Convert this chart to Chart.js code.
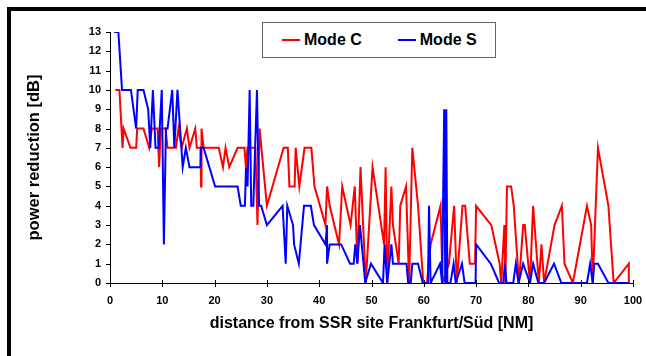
<!DOCTYPE html>
<html>
<head>
<meta charset="utf-8">
<script src="https://cdn.jsdelivr.net/npm/chart.js@4/dist/chart.umd.min.js"></script>
<style>
  html, body { margin: 0; padding: 0; background: #fff; }
  #wrap { position: relative; width: 646px; height: 356px; overflow: hidden; }
  #frame {
    position: absolute; left: 7px; top: 7px; right: 0; bottom: 0;
    border-top: 4px solid #000; border-left: 4px solid #000;
    pointer-events: none;
  }
  #legend {
    position: absolute; left: 262px; top: 22px; width: 234px; height: 36px;
    border: 1px solid #666; background: #fff; box-sizing: border-box;
    display: flex; align-items: center; padding-left: 19px; white-space: nowrap;
    font: bold 16px "Liberation Sans", Arial, sans-serif; color: #000;
  }
  #legend .item { display: flex; align-items: center; margin-right: 36px; flex-shrink: 0; }
  #legend .swatch { width: 18px; height: 2px; margin-right: 4px; }
</style>
</head>
<body>
<div id="wrap">
  <canvas id="powerChart" width="646" height="356"></canvas>
  <div id="legend"></div>
  <div id="frame"></div>
</div>
<script>
// Mode C (red) - distance [NM] / power reduction [dB]
const modeCDist = [1.0, 1.8, 2.4, 2.6, 3.9, 5.0, 5.2, 6.4, 7.5, 8.0, 9.1, 9.4, 9.7, 10.6, 11.0, 12.6, 13.1, 13.7,
  14.7, 15.2, 16.3, 16.6, 17.3, 17.4, 17.5, 17.9, 20.8, 21.6, 22.1, 22.8, 24.4, 25.7, 26.0, 26.3, 27.8, 28.2,
  28.6, 30.0, 33.2, 34.0, 34.3, 35.3, 35.5, 36.2, 37.2, 38.5, 39.1, 41.2, 41.5, 42.0, 43.8, 44.4, 46.0, 46.8,
  47.3, 47.9, 48.9, 50.2, 52.4, 52.7, 53.0, 53.8, 54.1, 55.2, 55.5, 56.6, 57.2, 57.8, 58.9, 59.9, 60.6, 61.3,
  63.2, 63.6, 64.8, 65.8, 66.3, 67.4, 67.9, 68.8, 69.8, 70.0, 72.9, 74.5, 74.8, 75.4, 75.6, 75.9, 76.7, 77.2,
  78.2, 79.0, 79.3, 80.3, 80.9, 82.0, 82.5, 83.0, 85.0, 86.4, 86.9, 88.5, 91.2, 92.0, 92.3, 93.3, 95.3, 96.3,
  99.2, 99.2];
const modeCPower = [10, 10, 7, 8, 7, 7, 8, 8, 7, 8, 8, 6, 8, 8, 7, 7, 8, 7,
  8, 7, 8, 7, 7, 5, 8, 7, 7, 6, 7, 6, 7, 7, 6, 7, 7, 3,
  8, 4, 7, 7, 5, 5, 7, 5, 7, 7, 5, 3, 5, 4, 2, 5, 3, 5,
  1, 6, 0, 6, 2, 6, 0, 5, 3, 1, 4, 5, 0, 7, 4, 0, 0, 2,
  4, 0, 1, 4, 0, 4, 4, 1, 1, 4, 3, 1, 0, 3, 0, 5, 5, 4,
  0, 3, 3, 0, 4, 0, 2, 0, 3, 4, 1, 0, 4, 3, 0, 7, 4, 0,
  1, 0];

// Mode S (blue)
const modeSDist = [0.8, 1.6, 2.3, 4.0, 5.0, 5.3, 6.4, 7.3, 7.7, 8.2, 8.7, 9.3, 9.9, 10.3, 10.7, 11.0, 11.9, 12.3,
  12.9, 13.9, 14.5, 15.2, 17.3, 17.4, 17.9, 20.1, 24.4, 25.0, 25.8, 26.0, 26.3, 26.7, 27.0, 27.4, 28.1, 28.5,
  28.9, 30.0, 33.0, 33.6, 33.9, 35.0, 35.2, 36.1, 37.1, 38.4, 39.0, 41.2, 41.5, 41.5, 42.0, 44.2, 45.9, 46.6,
  46.9, 47.3, 47.8, 48.8, 49.9, 52.2, 52.5, 53.0, 53.8, 54.1, 56.7, 57.0, 57.5, 57.8, 58.9, 59.8, 60.8, 61.0,
  61.3, 63.1, 63.5, 63.9, 64.1, 64.3, 64.5, 65.1, 65.7, 66.1, 67.3, 67.8, 69.9, 70.0, 72.8, 74.4, 75.2, 75.5,
  75.8, 77.1, 77.6, 78.1, 79.0, 80.3, 80.9, 81.9, 83.0, 84.9, 86.3, 91.2, 91.8, 92.3, 92.6, 93.3, 95.3, 99.4];
const modeSPower = [13, 13, 10, 10, 8, 10, 10, 9, 7, 10, 7, 7, 10, 2, 8, 8, 10, 7,
  10, 6, 7, 6, 6, 7, 7, 5, 5, 4, 4, 6, 5, 10, 4, 4, 10, 4,
  4, 3, 4, 1, 4, 3, 2, 1, 4, 4, 3, 2, 3, 1, 2, 2, 1, 1,
  2, 1, 3, 0, 1, 0, 2, 0, 2, 1, 1, 0, 0, 1, 1, 0, 0, 4,
  0, 1, 0, 9, 0, 9, 0, 0, 1, 0, 1, 0, 0, 2, 1, 0, 0, 1,
  0, 0, 1, 0, 1, 0, 1, 0, 0, 1, 0, 0, 1, 0, 1, 1, 0, 0];

const xTicks = [0, 10, 20, 30, 40, 50, 60, 70, 80, 90, 100];
const yTicks = [0, 1, 2, 3, 4, 5, 6, 7, 8, 9, 10, 11, 12, 13];

const FONT = '"Liberation Sans", Arial, sans-serif';

function toPoints(xs, ys) {
  return xs.map((x, i) => ({ x: x, y: ys[i] }));
}

// tick marks like the original: x ticks cross the axis, y ticks point outward
const tickMarks = {
  id: 'tickMarks',
  afterDraw(chart) {
    const { ctx, chartArea, scales } = chart;
    ctx.save();
    ctx.strokeStyle = '#000';
    ctx.lineWidth = 1;
    ctx.beginPath();
    xTicks.forEach(v => {
      const px = Math.round(scales.x.getPixelForValue(v)) + 0.5;
      ctx.moveTo(px, chartArea.bottom - 3);
      ctx.lineTo(px, chartArea.bottom + 4);
    });
    yTicks.forEach(v => {
      const py = Math.round(scales.y.getPixelForValue(v)) + 0.5;
      ctx.moveTo(chartArea.left - 4, py);
      ctx.lineTo(chartArea.left, py);
    });
    ctx.stroke();
    ctx.restore();
  }
};

const chart = new Chart(document.getElementById('powerChart').getContext('2d'), {
  type: 'line',
  data: {
    datasets: [
      {
        label: 'Mode C',
        data: toPoints(modeCDist, modeCPower),
        borderColor: '#ff0000',
        borderWidth: 2,
        pointRadius: 0,
        tension: 0,
        order: 1
      },
      {
        label: 'Mode S',
        data: toPoints(modeSDist, modeSPower),
        borderColor: '#0000ff',
        borderWidth: 2,
        pointRadius: 0,
        tension: 0,
        order: 0
      }
    ]
  },
  options: {
    responsive: false,
    animation: false,
    devicePixelRatio: 1,
    layout: { padding: { left: 10, top: 32, right: 13, bottom: 0 } },
    plugins: { legend: { display: false }, tooltip: { enabled: false } },
    scales: {
      x: {
        type: 'linear',
        min: 0,
        max: 100,
        afterBuildTicks: s => { s.ticks = xTicks.map(v => ({ value: v })); },
        afterFit: s => { s.height = 73; s.paddingLeft = 0; s.paddingRight = 0; },
        grid: { display: false, drawTicks: false },
        border: { display: true, color: '#000', width: 1 },
        ticks: { color: '#000', padding: 11, maxRotation: 0, font: { family: FONT, size: 11, weight: 'bold' } },
        title: {
          display: true,
          text: 'distance from SSR site Frankfurt/Süd [NM]',
          color: '#000',
          font: { family: FONT, size: 16, weight: 'bold' },
          padding: { top: 0, bottom: 23 }
        }
      },
      y: {
        min: 0,
        max: 13,
        afterBuildTicks: s => { s.ticks = yTicks.map(v => ({ value: v })); },
        afterFit: s => { s.width = 100; },
        grid: { display: false, drawTicks: false },
        border: { display: true, color: '#000', width: 1 },
        ticks: { color: '#000', padding: 9, font: { family: FONT, size: 11, weight: 'bold' } },
        title: {
          display: true,
          text: 'power reduction [dB]',
          color: '#000',
          font: { family: FONT, size: 16.5, weight: 'bold' },
          padding: { top: 15, bottom: 0 }
        }
      }
    }
  },
  plugins: [tickMarks]
});

// legend built from the datasets
const legendEl = document.getElementById('legend');
chart.data.datasets.forEach(ds => {
  const item = document.createElement('div');
  item.className = 'item';
  const sw = document.createElement('span');
  sw.className = 'swatch';
  sw.style.background = ds.borderColor;
  const txt = document.createElement('span');
  txt.textContent = ds.label;
  item.appendChild(sw);
  item.appendChild(txt);
  legendEl.appendChild(item);
});
</script>
</body>
</html>
